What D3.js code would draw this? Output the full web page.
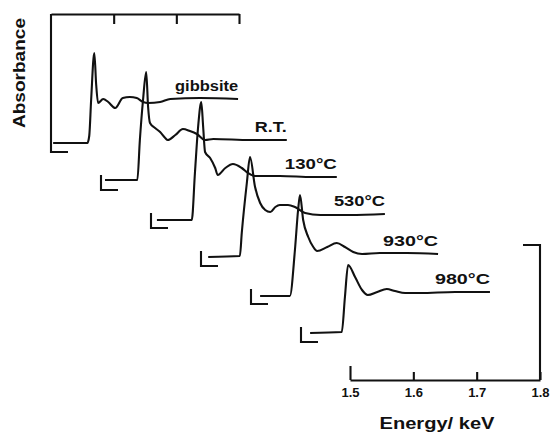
<!DOCTYPE html>
<html>
<head>
<meta charset="utf-8">
<script src="https://cdn.jsdelivr.net/npm/d3@7"></script>
<style>
  html, body { margin: 0; padding: 0; background: #fff; }
  svg { display: block; }
  text { font-family: "Liberation Sans", Arial, sans-serif; font-weight: bold; fill: #111; }
</style>
</head>
<body>
<svg id="chart" width="550" height="432"></svg>
<script>
// ---------------- data (energy in keV, absorbance in arbitrary units) ----------------
const seriesNames = ["gibbsite", "R.T.", "130°C", "530°C", "930°C", "980°C"];

const gibbsiteE = [1.426, 1.480, 1.483, 1.486, 1.491, 1.494, 1.497, 1.505, 1.513, 1.524, 1.536, 1.547, 1.558, 1.568, 1.576, 1.595, 1.611, 1.658, 1.718];
const gibbsiteA = [0.00, 0.00, 0.07, 0.43, 0.90, 0.58, 0.40, 0.44, 0.41, 0.35, 0.45, 0.46, 0.45, 0.41, 0.40, 0.41, 0.44, 0.45, 0.44];

const rtE = [1.429, 1.480, 1.484, 1.489, 1.494, 1.497, 1.500, 1.508, 1.516, 1.524, 1.528, 1.540, 1.552, 1.563, 1.574, 1.587, 1.600, 1.658, 1.716];
const rtA = [0.01, 0.01, 0.41, 0.81, 1.09, 0.74, 0.58, 0.53, 0.49, 0.43, 0.41, 0.46, 0.52, 0.50, 0.47, 0.41, 0.42, 0.41, 0.41];

const t130E = [1.432, 1.487, 1.492, 1.497, 1.502, 1.505, 1.508, 1.516, 1.524, 1.528, 1.540, 1.552, 1.566, 1.576, 1.587, 1.626, 1.678, 1.716];
const t130A = [-0.01, -0.01, 0.46, 0.92, 1.17, 0.92, 0.67, 0.61, 0.51, 0.44, 0.51, 0.55, 0.51, 0.46, 0.43, 0.43, 0.42, 0.42];

const t530E = [1.434, 1.484, 1.487, 1.495, 1.500, 1.508, 1.516, 1.524, 1.532, 1.540, 1.547, 1.560, 1.571, 1.587, 1.611, 1.658, 1.713];
const t530A = [0.00, 0.01, 0.24, 0.74, 1.00, 0.70, 0.54, 0.47, 0.45, 0.50, 0.52, 0.52, 0.50, 0.44, 0.42, 0.42, 0.43];

const t930E = [1.437, 1.484, 1.492, 1.497, 1.500, 1.505, 1.513, 1.521, 1.527, 1.543, 1.558, 1.571, 1.584, 1.598, 1.626, 1.669, 1.718];
const t930A = [-0.01, -0.01, 0.45, 0.85, 1.00, 0.75, 0.58, 0.48, 0.44, 0.48, 0.52, 0.48, 0.43, 0.41, 0.42, 0.42, 0.41];

const t980E = [1.437, 1.487, 1.492, 1.497, 1.508, 1.519, 1.528, 1.543, 1.558, 1.571, 1.587, 1.611, 1.666, 1.721];
const t980A = [0.00, 0.01, 0.36, 0.68, 0.56, 0.43, 0.38, 0.41, 0.44, 0.42, 0.40, 0.40, 0.41, 0.41];

const seriesE = [gibbsiteE, rtE, t130E, t530E, t930E, t980E];
const seriesA = [gibbsiteA, rtA, t130A, t530A, t930A, t980A];

const tickValues = [1.5, 1.6, 1.7, 1.8];
const tickLabels = ["1.5", "1.6", "1.7", "1.8"];
const xTitle = "Energy/ keV";
const yTitle = "Absorbance";

// ---------------- layout ----------------
const svg = d3.select("#chart");
const x = d3.scaleLinear().domain([1.5, 1.8]).range([350, 540]);
const y = d3.scaleLinear().domain([0, 1]).range([333, 233]);
const stepX = 50, stepY = 38;          // stacking offset per spectrum
const cornerX = 301, cornerY = 342;    // local corner mark of each spectrum
const strokeW = 2.1;
const labelWidths = [63, 32, 52, 51, 55, 55];

const line = d3.line()
  .x(d => x(d[0]))
  .y(d => y(d[1]))
  .curve(d3.curveMonotoneX);

seriesNames.forEach((name, i) => {
  const k = seriesNames.length - 1 - i;
  const g = svg.append("g").attr("transform", `translate(${-k * stepX},${-k * stepY})`);
  const pts = seriesE[i].map((e, j) => [e, seriesA[i][j]]);

  // corner mark (the top spectrum's vertical reaches the top frame)
  const topY = (i === 0) ? 14 + k * stepY : cornerY - 15;
  g.append("path")
    .attr("d", `M${cornerX},${topY}V${cornerY}H${cornerX + 17}`)
    .attr("fill", "none").attr("stroke", "#111").attr("stroke-width", strokeW);

  g.append("path")
    .datum(pts)
    .attr("d", line)
    .attr("fill", "none")
    .attr("stroke", "#111")
    .attr("stroke-width", strokeW)
    .attr("stroke-linejoin", "round");

  const last = pts[pts.length - 1];
  g.append("text")
    .attr("x", x(last[0]) - labelWidths[i])
    .attr("y", y(last[1]) - 8)
    .attr("font-size", 14.5)
    .attr("textLength", labelWidths[i])
    .attr("lengthAdjust", "spacingAndGlyphs")
    .text(name);
});

// ---------------- top frame (belongs to top spectrum) ----------------
const xTop = d3.scaleLinear().domain([1.5, 1.8]).range([cornerX - 5 * stepX, cornerX - 5 * stepX + 188]);
const topAxis = svg.append("g")
  .attr("transform", "translate(0,14)")
  .call(d3.axisBottom(xTop).tickValues([1.6, 1.7, 1.8]).tickSizeInner(10).tickSizeOuter(0).tickFormat(""));
topAxis.selectAll("path, line").attr("stroke", "#111").attr("stroke-width", strokeW);

// ---------------- bottom scale frame ----------------
const bottomAxis = svg.append("g")
  .attr("transform", "translate(0,380)")
  .call(d3.axisBottom(x).tickValues(tickValues).tickSizeInner(-8).tickSizeOuter(0).tickPadding(8)
    .tickFormat((d, i) => tickLabels[i]));
bottomAxis.selectAll("path, line").attr("stroke", "#111").attr("stroke-width", strokeW);
bottomAxis.selectAll(".tick line").filter(d => d === 1.5).attr("y2", -14);
bottomAxis.selectAll("text")
  .attr("font-size", 13).attr("font-weight", "bold").attr("fill", "#111")
  .attr("font-family", "Liberation Sans, Arial, sans-serif");

svg.append("path")
  .attr("d", `M${x(1.8)},380V245H${x(1.8) - 17}`)
  .attr("fill", "none").attr("stroke", "#111").attr("stroke-width", strokeW);

svg.append("text")
  .attr("x", 437).attr("y", 429)
  .attr("text-anchor", "middle")
  .attr("font-size", 17)
  .attr("textLength", 115).attr("lengthAdjust", "spacingAndGlyphs")
  .text(xTitle);

svg.append("text")
  .attr("transform", "translate(25,73) rotate(-90)")
  .attr("text-anchor", "middle")
  .attr("font-size", 16.5)
  .attr("textLength", 110).attr("lengthAdjust", "spacingAndGlyphs")
  .text(yTitle);
</script>
</body>
</html>
